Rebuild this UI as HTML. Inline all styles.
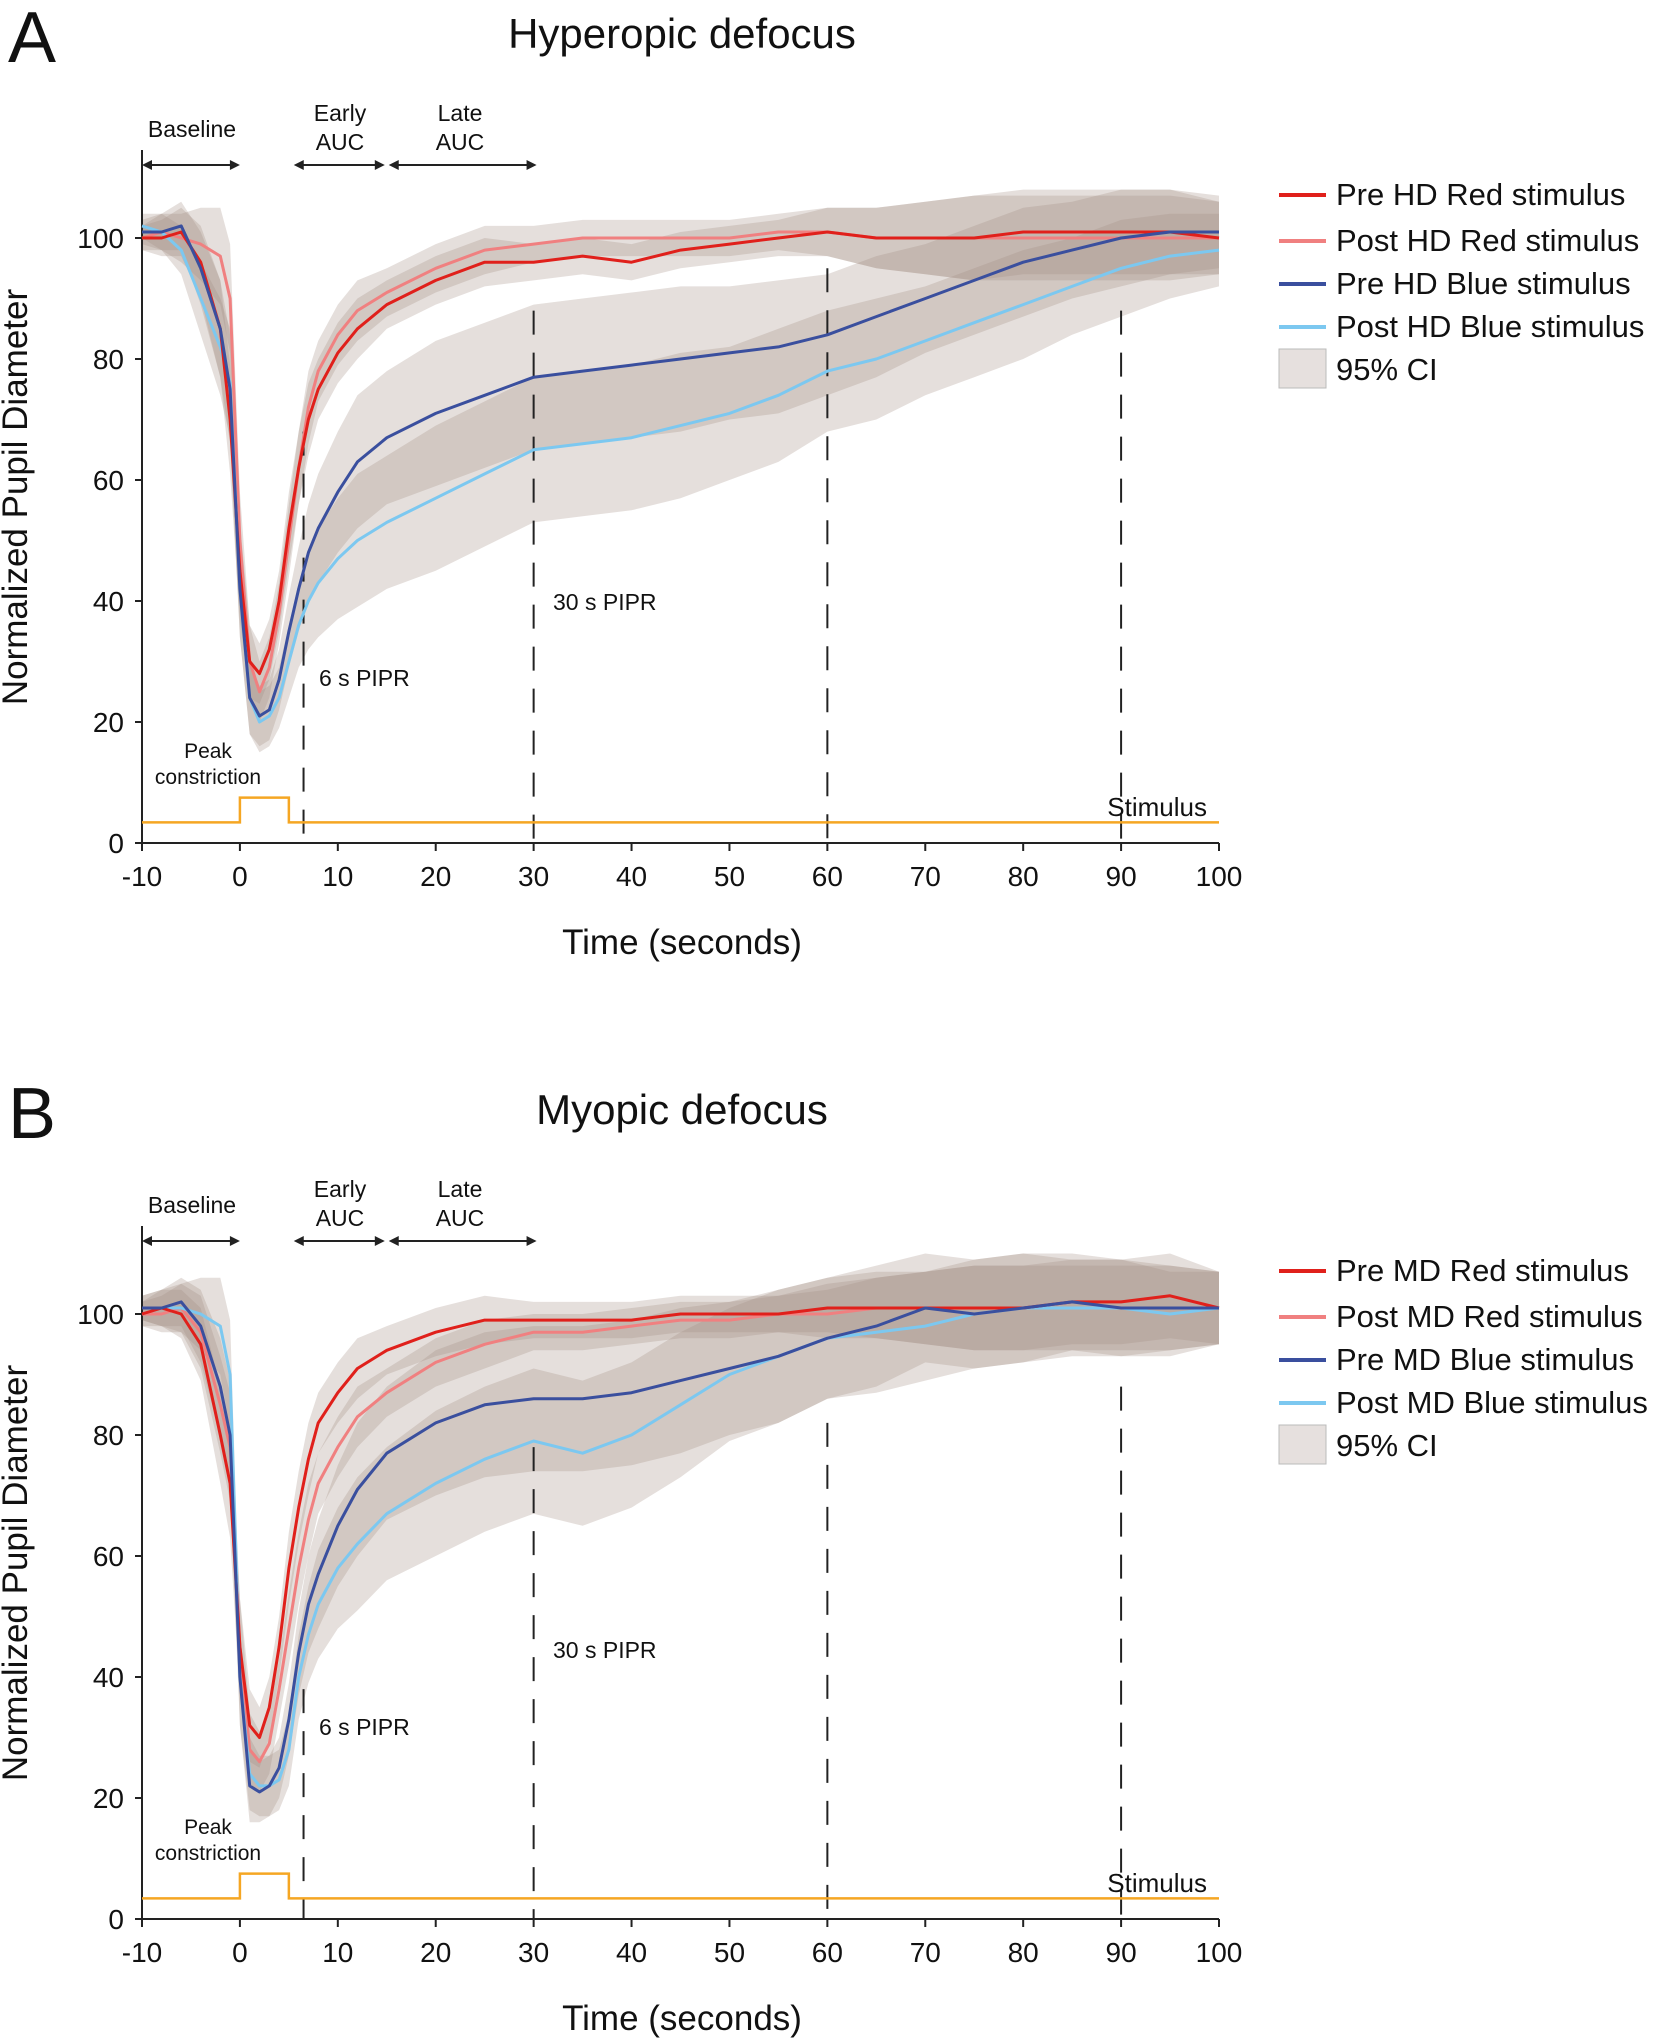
<!DOCTYPE html>
<html><head><meta charset="utf-8">
<style>
html,body{margin:0;padding:0;background:#fff;}
svg{display:block;font-family:"Liberation Sans",sans-serif;}
</style></head>
<body>
<svg id="fig" width="1667" height="2043" viewBox="0 0 1667 2043" xmlns="http://www.w3.org/2000/svg"></svg>
<script>
const times = [-10,-8,-6,-4,-2,-1,0,1,2,3,4,5,6,7,8,10,12,15,20,25,30,35,40,45,50,55,60,65,70,75,80,85,90,95,100];
// Panel A
const preHDRed   = [100,100,101,96,85,70,45,30,28,32,40,52,62,70,75,81,85,89,93,96,96,97,96,98,99,100,101,100,100,100,101,101,101,101,100];
const postHDRed  = [100,101,100,99,97,90,50,30,25,29,38,50,62,72,78,84,88,91,95,98,99,100,100,100,100,101,101,100,100,100,100,100,100,100,100];
const preHDBlue  = [101,101,102,95,85,75,42,24,21,22,27,35,42,48,52,58,63,67,71,74,77,78,79,80,81,82,84,87,90,93,96,98,100,101,101];
const postHDBlue = [102,101,98,90,82,76,42,24,20,21,24,30,36,40,43,47,50,53,57,61,65,66,67,69,71,74,78,80,83,86,89,92,95,97,98];
// Panel B
const preMDRed   = [100,101,100,95,80,72,45,32,30,35,45,58,68,76,82,87,91,94,97,99,99,99,99,100,100,100,101,101,101,101,101,102,102,103,101];
const postMDRed  = [100,100,101,97,85,78,45,28,26,29,38,48,58,66,72,78,83,87,92,95,97,97,98,99,99,100,100,101,101,101,101,101,101,101,101];
const preMDBlue  = [101,101,102,98,88,80,40,22,21,22,25,33,44,52,57,65,71,77,82,85,86,86,87,89,91,93,96,98,101,100,101,102,101,101,101];
const postMDBlue = [101,101,101,100,98,90,40,24,22,22,23,28,40,47,52,58,62,67,72,76,79,77,80,85,90,93,96,97,98,100,101,101,101,100,101];
// CI half widths
const ciRed  = [2,3,4,6,8,9,8,6,5,5,5,6,6,6,5,5,5,4,4,4,3,3,3,3,3,3,4,5,6,7,7,7,7,7,6];
const ciBlue = [2,3,4,6,8,9,8,6,5,5,5,6,7,8,9,10,11,11,12,12,12,12,12,12,11,11,10,10,9,9,9,8,8,7,6];
const xTicks = [-10,0,10,20,30,40,50,60,70,80,90,100];
const yTicks = [0,20,40,60,80,100];
const dashTimes = [6.5,30,60,90];

const NS="http://www.w3.org/2000/svg";
const svg=document.getElementById('fig');
function mk(tag,attrs,parent){const e=document.createElementNS(NS,tag);for(const k in attrs)e.setAttribute(k,attrs[k]);(parent||svg).appendChild(e);return e;}
function txt(s,x,y,size,anchor,parent,extra){const e=mk('text',Object.assign({x:x,y:y,'font-size':size,'text-anchor':anchor||'start',fill:'#111'},extra||{}),parent);e.textContent=s;return e;}
const X=t=>142+(t+10)*(1077/110);

function panel(off,letter,title,names,series,pipr6y,pipr30y,dashTop){
  const g=mk('g',{});
  
  
  const Y=v=>843+off-v*6.05;
  let e=txt(letter,8,62+off,72,'start',g);
  e=txt(title,682,48+off,42,'middle',g);
  series.forEach((s,i)=>{
    const ci=i<2?ciRed:ciBlue;
    let d='';
    s.forEach((v,j)=>{d+=(j?'L':'M')+X(times[j]).toFixed(1)+','+Y(v+ci[j]).toFixed(1);});
    for(let j=s.length-1;j>=0;j--)d+='L'+X(times[j]).toFixed(1)+','+Y(s[j]-ci[j]).toFixed(1);
    const p=mk('path',{d:d+'Z',fill:'rgba(160,140,130,0.28)'},g);
    
    
  });
  const ax=mk('path',{d:`M142,${150+off}L142,${843+off}L1219,${843+off}`,stroke:'#222','stroke-width':2,fill:'none'},g);
  
  yTicks.forEach(v=>{
    mk('line',{x1:135,x2:142,y1:Y(v),y2:Y(v),stroke:'#222','stroke-width':2},g);
    const t=txt(String(v),124,Y(v)+10,28,'end',g);
    
  });
  xTicks.forEach(v=>{
    mk('line',{x1:X(v),x2:X(v),y1:843+off,y2:851+off,stroke:'#222','stroke-width':2},g);
    const t=txt(String(v),X(v),886+off,28,'middle',g);
    
  });
  e=txt('Time (seconds)',682,954+off,35,'middle',g);
  e=txt('Normalized Pupil Diameter',0,0,35,'middle',g,{transform:`translate(27,${497+off}) rotate(-90)`});
  
  dashTimes.forEach((t,i)=>{
    const l=mk('line',{x1:X(t),x2:X(t),y1:Y(dashTop[i]),y2:843+off,stroke:'#222','stroke-width':2,'stroke-dasharray':'24,18'},g);
    
  });
  const st=mk('path',{d:`M142,${Y(3.4)}L${X(0)},${Y(3.4)}L${X(0)},${Y(7.5)}L${X(5)},${Y(7.5)}L${X(5)},${Y(3.4)}L1219,${Y(3.4)}`,stroke:'#f5a623','stroke-width':2.5,fill:'none'},g);
  
  e=txt('Stimulus',1207,816+off,26,'end',g);
  const cols=['#e0201b','#f08080','#3a4f9e','#7cc8f0'];
  [1,3,0,2].forEach(i=>{
    const s=series[i];let d='';
    s.forEach((v,j)=>{d+=(j?'L':'M')+X(times[j]).toFixed(1)+','+Y(v).toFixed(1);});
    const p=mk('path',{d:d,stroke:cols[i],'stroke-width':3,fill:'none','stroke-linejoin':'round'},g);
    
  });
  const arr=(a,b,y)=>{
    mk('line',{x1:X(a)+2,x2:X(b)-2,y1:y,y2:y,stroke:'#222','stroke-width':2},g);
    mk('path',{d:`M${X(a)},${y}l10,-5v10z M${X(b)},${y}l-10,-5v10z`,fill:'#222'},g);
  };
  arr(-10,0,165+off);arr(5.5,14.8,165+off);arr(15.2,30.3,165+off);
  e=txt('Baseline',192,137+off,23,'middle',g);
  txt('Early',340,121+off,23,'middle',g);txt('AUC',340,150+off,23,'middle',g);
  txt('Late',460,121+off,23,'middle',g);txt('AUC',460,150+off,23,'middle',g);
  txt('Peak',208,758+off,21,'middle',g);txt('constriction',208,784+off,21,'middle',g);
  txt('6 s PIPR',319,pipr6y,23,'start',g);
  txt('30 s PIPR',553,pipr30y,23,'start',g);
  const ly=[195,241,284,327].map(v=>v+off);
  names.forEach((n,i)=>{
    mk('line',{x1:1279,x2:1326,y1:ly[i],y2:ly[i],stroke:cols[i],'stroke-width':4},g);
    const t=txt(n,1336,ly[i]+10,31,'start',g);
    
  });
  mk('rect',{x:1279,y:349+off,width:47,height:39,fill:'#e6e0de',stroke:'#bbb','stroke-width':1},g);
  e=txt('95% CI',1336,380+off,31,'start',g);
}
panel(0,'A','Hyperopic defocus',['Pre HD Red stimulus','Post HD Red stimulus','Pre HD Blue stimulus','Post HD Blue stimulus'],
  [preHDRed,postHDRed,preHDBlue,postHDBlue],686,610,[68,88,95,88]);
panel(1076,'B','Myopic defocus',['Pre MD Red stimulus','Post MD Red stimulus','Pre MD Blue stimulus','Post MD Blue stimulus'],
  [preMDRed,postMDRed,preMDBlue,postMDBlue],1735,1658,[38,78,82,88]);
</script>
</body></html>
